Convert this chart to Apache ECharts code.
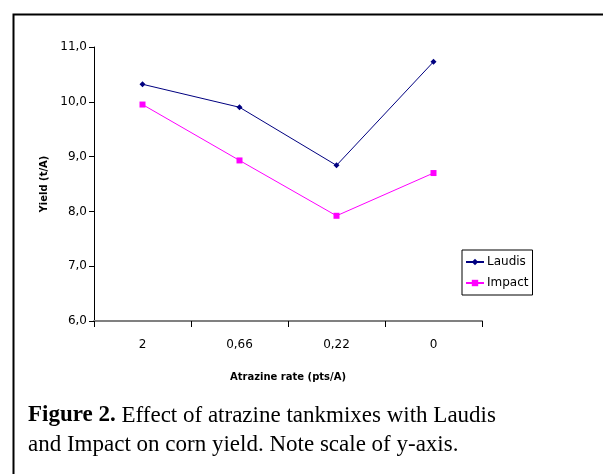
<!DOCTYPE html>
<html><head><meta charset="utf-8">
<script src="https://cdn.jsdelivr.net/npm/echarts@6/dist/echarts.min.js"></script>
<style>html,body{margin:0;padding:0;background:#fff}#c{width:603px;height:474px}</style>
</head><body><div id="c"></div>
<script>
var categories = ['2', '0,66', '0,22', '0'];
var laudis = [10.32, 9.9, 8.84, 10.73];
var impact = [9.95, 8.93, 7.92, 8.7];
var yTicks = [6, 7, 8, 9, 10, 11];

var chart = echarts.init(document.getElementById('c'));
var font = 'DejaVu Sans';
chart.setOption({
  animation: false,
  backgroundColor: '#fff',
  grid: {left: 94, right: 121, top: 47, bottom: 153},
  legend: {
    data: ['Laudis', 'Impact'],
    orient: 'vertical', left: 462, top: 250,
    padding: [6, 4, 6, 3], itemGap: 9, itemWidth: 18, itemHeight: 8,
    borderColor: '#000', borderWidth: 1,
    textStyle: {fontFamily: font, fontSize: 12, color: '#000', padding: [0, 0, 0, -2]}
  },
  xAxis: {
    type: 'category', data: categories, boundaryGap: true,
    name: 'Atrazine rate (pts/A)', nameLocation: 'middle', nameGap: 51,
    nameTextStyle: {fontFamily: font, fontSize: 10, fontWeight: 'bold', color: '#000'},
    axisLine: {lineStyle: {color: '#808080', width: 2}},
    axisTick: {show: true, inside: false, length: 6, lineStyle: {color: '#000'}},
    axisLabel: {fontFamily: font, fontSize: 12, color: '#000', margin: 18},
    splitLine: {show: false}
  },
  yAxis: {
    type: 'value', min: 6, max: 11, interval: 1,
    name: 'Yield (t/A)', nameLocation: 'middle', nameGap: 37, nameRotate: 90,
    nameTextStyle: {fontFamily: font, fontSize: 10, fontWeight: 'bold', color: '#000'},
    axisLine: {show: true, lineStyle: {color: '#000', width: 1}},
    axisTick: {show: true, length: 5, lineStyle: {color: '#000'}},
    axisLabel: {fontFamily: font, fontSize: 12, color: '#000', margin: 7,
      formatter: function (v) { return v.toFixed(1).replace('.', ','); }},
    splitLine: {show: false}
  },
  series: [
    {name: 'Laudis', type: 'line', data: laudis, color: '#000080',
     symbol: 'path://M0,4 L4,0 L8,4 L4,8 Z', symbolSize: 6,
     lineStyle: {width: 1, color: '#000080'}, itemStyle: {color: '#000080'}},
    {name: 'Impact', type: 'line', data: impact, color: '#ff00ff',
     symbol: 'rect', symbolSize: 6,
     lineStyle: {width: 1, color: '#ff00ff'}, itemStyle: {color: '#ff00ff'}}
  ],
  graphic: [
    {type: 'rect', left: 11, top: 12, shape: {x: 0, y: 0, width: 600, height: 470},
     style: {fill: 'none', stroke: '#000', lineWidth: 2}, silent: true},
    {type: 'text', left: 28, top: 401,
     style: {text: '{b|Figure 2.} Effect of atrazine tankmixes with Laudis\nand Impact on corn yield. Note scale of y-axis.',
       rich: {b: {fontFamily: 'Liberation Serif', fontSize: 23, fontWeight: 'bold', fill: '#000'}},
       font: '23px "Liberation Serif"', fill: '#000', lineHeight: 29}}
  ]
});
</script></body></html>
